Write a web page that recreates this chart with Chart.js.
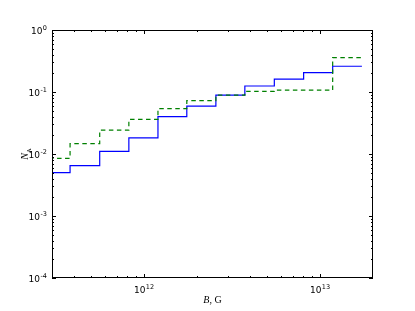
<!DOCTYPE html>
<html>
<head>
<meta charset="utf-8">
<script src="https://cdn.jsdelivr.net/npm/chart.js@4.4.1/dist/chart.umd.min.js"></script>
<style>
  html, body { margin: 0; padding: 0; background: #fff; }
  #wrap { width: 415px; height: 311px; position: relative; }
</style>
</head>
<body>
<div id="wrap"><canvas id="c"></canvas></div>
<script>
'use strict';

// Bin edges in B (G) and per-bin values of N_A.
const binEdges = [2.6e11, 3.8e11, 5.6e11, 8.2e11, 1.2e12, 1.75e12, 2.56e12,
                  3.74e12, 5.5e12, 8.07e12, 1.18e13, 1.73e13];
const solidSeries = [0.0050, 0.0065, 0.011, 0.0182, 0.040, 0.059, 0.0888,
                     0.125, 0.161, 0.205, 0.260];
const dashedSeries = [0.0085, 0.0147, 0.0242, 0.0362, 0.054, 0.0726, 0.0888,
                      0.102, 0.107, 0.107, 0.358];

// Decade ticks and their exponent labels.
const xDecades = [1e11, 1e12, 1e13];
const xExponents = ['11', '12', '13'];
const yDecades = [1e-4, 1e-3, 1e-2, 1e-1, 1e0];
const yExponents = ['-4', '-3', '-2', '-1', '0'];

const xRange = [3e11, 2e13];
const yRange = [1e-4, 1];

// histogram edges + heights -> points for a stepped line
function stepPoints(edges, vals) {
  const pts = vals.map(function (v, i) { return { x: edges[i], y: v }; });
  pts.push({ x: edges[vals.length], y: vals[vals.length - 1] });
  return pts;
}

function drawPow(ctx, x, y, exp, align) {
  ctx.save();
  ctx.fillStyle = '#000';
  ctx.textBaseline = 'alphabetic';
  ctx.font = '9px "DejaVu Sans"';
  const wBase = ctx.measureText('10').width;
  ctx.font = '6.5px "DejaVu Sans"';
  const wExp = ctx.measureText(exp).width;
  const total = wBase + wExp + 0.5;
  let x0 = x;
  if (align === 'right') x0 = x - total;
  else if (align === 'center') x0 = x - total / 2;
  ctx.textAlign = 'left';
  ctx.font = '9px "DejaVu Sans"';
  ctx.fillText('10', x0, y);
  ctx.font = '6.5px "DejaVu Sans"';
  ctx.fillText(exp, x0 + wBase + 0.5, y - 4);
  ctx.restore();
}

// matplotlib-classic frame: box, inward ticks on all sides, 10^n labels
const framePlugin = {
  id: 'frame',
  afterDatasetsDraw(chart) {
    const ctx = chart.ctx;
    const a = chart.chartArea;
    const xs = chart.scales.x, ys = chart.scales.y;
    ctx.save();
    ctx.strokeStyle = '#000';
    ctx.lineWidth = 1;

    function tickX(v, len) {
      const px = Math.round(xs.getPixelForValue(v)) + 0.5;
      if (px < a.left || px > a.right) return;
      ctx.beginPath();
      ctx.moveTo(px, a.bottom); ctx.lineTo(px, a.bottom - len);
      ctx.moveTo(px, a.top); ctx.lineTo(px, a.top + len);
      ctx.stroke();
    }
    function tickY(v, len) {
      const py = Math.round(ys.getPixelForValue(v)) + 0.5;
      if (py < a.top - 1 || py > a.bottom + 1) return;
      ctx.beginPath();
      ctx.moveTo(a.left, py); ctx.lineTo(a.left + len, py);
      ctx.moveTo(a.right, py); ctx.lineTo(a.right - len, py);
      ctx.stroke();
    }
    xDecades.forEach(function (d) {
      tickX(d, 4);
      for (let m = 2; m <= 9; m++) tickX(d * m, 2);
    });
    yDecades.forEach(function (d) {
      tickY(d, 4);
      if (d < 1) for (let m = 2; m <= 9; m++) tickY(d * m, 2);
    });

    ctx.strokeRect(Math.round(a.left) + 0.5, Math.round(a.top) + 0.5,
                   Math.round(a.right - a.left) - 1, Math.round(a.bottom - a.top) - 1);

    xDecades.forEach(function (d, i) {
      const px = xs.getPixelForValue(d);
      if (px < a.left || px > a.right) return;
      drawPow(ctx, px, a.bottom + 15, xExponents[i], 'center');
    });
    yDecades.forEach(function (d, i) {
      const py = ys.getPixelForValue(d);
      drawPow(ctx, a.left - 5, py + 4, yExponents[i], 'right');
    });

    // x label: B, G
    ctx.fillStyle = '#000';
    ctx.textBaseline = 'alphabetic';
    ctx.font = 'italic 10px "Liberation Serif"';
    const wB = ctx.measureText('B').width;
    ctx.font = '10px "Liberation Serif"';
    const wRest = ctx.measureText(', G').width;
    const cx = (a.left + a.right) / 2;
    let x0 = cx - (wB + wRest) / 2;
    ctx.font = 'italic 10px "Liberation Serif"';
    ctx.fillText('B', x0, 303);
    ctx.font = '10px "Liberation Serif"';
    ctx.fillText(', G', x0 + wB, 303);

    // y label: N_A
    ctx.translate(28, (a.top + a.bottom) / 2);
    ctx.rotate(-Math.PI / 2);
    ctx.font = 'italic 10px "Liberation Serif"';
    const wN = ctx.measureText('N').width;
    ctx.font = '7px "Liberation Serif"';
    const wA = ctx.measureText('A').width;
    x0 = -(wN + wA) / 2;
    ctx.font = 'italic 10px "Liberation Serif"';
    ctx.fillText('N', x0, 0);
    ctx.font = '7px "Liberation Serif"';
    ctx.fillText('A', x0 + wN, 2.5);
    ctx.restore();
  }
};

const hiddenAxis = {
  ticks: { display: false },
  grid: { display: false, drawTicks: false },
  border: { display: false },
};

new Chart(document.getElementById('c').getContext('2d'), {
  type: 'line',
  data: {
    datasets: [
      {
        label: 'solid',
        data: stepPoints(binEdges, solidSeries),
        borderColor: '#0000ff',
        borderWidth: 1.2,
        stepped: 'before',
        pointRadius: 0,
        fill: false,
        order: 1,
      },
      {
        label: 'dashed',
        data: stepPoints(binEdges, dashedSeries),
        borderColor: '#008000',
        borderWidth: 1.2,
        borderDash: [4.5, 3.5],
        stepped: 'before',
        pointRadius: 0,
        fill: false,
        order: 0,
      },
    ],
  },
  options: {
    responsive: true,
    maintainAspectRatio: false,
    animation: false,
    layout: { padding: { left: 52, right: 42, top: 30, bottom: 33 } },
    plugins: { legend: { display: false }, tooltip: { enabled: false } },
    scales: {
      x: Object.assign({ type: 'logarithmic', min: xRange[0], max: xRange[1] }, hiddenAxis),
      y: Object.assign({ type: 'logarithmic', min: yRange[0], max: yRange[1] }, hiddenAxis),
    },
  },
  plugins: [framePlugin],
});
</script>
</body>
</html>
